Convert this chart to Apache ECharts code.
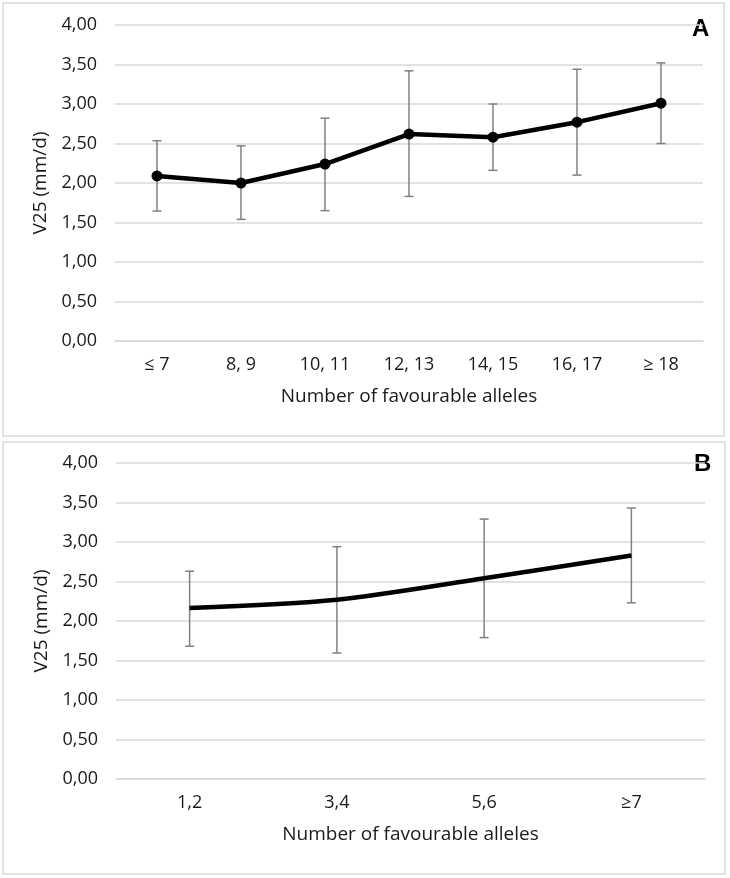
<!DOCTYPE html>
<html>
<head>
<meta charset="utf-8">
<script src="https://cdn.jsdelivr.net/npm/echarts@6/dist/echarts.min.js"></script>
<style>
  html, body { margin: 0; padding: 0; background: #ffffff; }
  #chart { width: 730px; height: 878px; }
</style>
</head>
<body>
<div id="chart"></div>
<script>
// Panel A data
const catsA = ['≤ 7', '8, 9', '10, 11', '12, 13', '14, 15', '16, 17', '≥ 18'];
const meanA = [2.09, 2.00, 2.24, 2.62, 2.58, 2.77, 3.01];
const lowA  = [1.645, 1.54, 1.65, 1.83, 2.16, 2.10, 2.50];
const highA = [2.535, 2.47, 2.82, 3.42, 3.00, 3.44, 3.52];

// Panel B data
const catsB = ['1,2', '3,4', '5,6', '≥7'];
const meanB = [2.165, 2.27, 2.54, 2.83];
const lowB  = [1.68, 1.595, 1.79, 2.23];
const highB = [2.63, 2.94, 3.29, 3.43];

const yTicks = [0, 0.5, 1, 1.5, 2, 2.5, 3, 3.5, 4];
const xName = 'Number of favourable alleles';
const yName = 'V25 (mm/d)';

const FONT = 'Open Sans';
const TXT = '#1a1a1a';
const GRIDC = '#d9d9d9';

function errData(low, high) {
  return low.map((l, i) => [i, l, high[i]]);
}

function errRender(params, api) {
  const x = api.value(0);
  const lo = api.coord([x, api.value(1)]);
  const hi = api.coord([x, api.value(2)]);
  const cap = 4.5;
  const st = { stroke: '#808080', lineWidth: 1.5 };
  return {
    type: 'group',
    children: [
      { type: 'line', shape: { x1: lo[0], y1: lo[1], x2: hi[0], y2: hi[1] }, style: st },
      { type: 'line', shape: { x1: lo[0] - cap, y1: lo[1], x2: lo[0] + cap, y2: lo[1] }, style: st },
      { type: 'line', shape: { x1: hi[0] - cap, y1: hi[1], x2: hi[0] + cap, y2: hi[1] }, style: st }
    ]
  };
}

function yAxisCfg(gi) {
  return {
    gridIndex: gi,
    type: 'value',
    min: 0, max: 4, interval: 0.5,
    name: yName,
    nameLocation: 'middle',
    nameGap: 57,
    nameTextStyle: { fontFamily: FONT, fontSize: 19, color: TXT },
    axisLine: { show: false },
    axisTick: { show: false },
    axisLabel: {
      margin: 18,
      fontFamily: FONT, fontSize: 18, color: TXT,
      formatter: v => v.toFixed(2).replace('.', ',')
    },
    splitLine: { lineStyle: { color: GRIDC, width: 1.5 } }
  };
}

function xAxisCfg(gi, cats) {
  return {
    gridIndex: gi,
    type: 'category',
    data: cats,
    boundaryGap: true,
    name: xName,
    nameLocation: 'middle',
    nameGap: 46,
    nameTextStyle: { fontFamily: FONT, fontSize: 19, color: TXT },
    axisLine: { show: true, lineStyle: { color: GRIDC, width: 1.5 } },
    axisTick: { show: false },
    axisLabel: { margin: 15, fontFamily: FONT, fontSize: 18, color: TXT, interval: 0 }
  };
}

const chart = echarts.init(document.getElementById('chart'), null, { renderer: 'canvas' });
chart.setOption({
  backgroundColor: '#ffffff',
  animation: false,
  graphic: [
    { type: 'rect', shape: { x: 3, y: 3, width: 721, height: 433 }, style: { fill: 'none', stroke: GRIDC, lineWidth: 1.5 }, z: -1 },
    { type: 'rect', shape: { x: 3, y: 442, width: 722, height: 432 }, style: { fill: 'none', stroke: GRIDC, lineWidth: 1.5 }, z: -1 },
    { type: 'text', left: 692, top: 17, style: { text: 'A', fontFamily: 'Liberation Sans', fontWeight: 'bold', fontSize: 24, fill: '#000' } },
    { type: 'text', left: 694, top: 452, style: { text: 'B', fontFamily: 'Liberation Sans', fontWeight: 'bold', fontSize: 24, fill: '#000' } }
  ],
  grid: [
    { left: 115, top: 25, width: 588, height: 316 },
    { left: 116, top: 463, width: 589, height: 316 }
  ],
  xAxis: [xAxisCfg(0, catsA), xAxisCfg(1, catsB)],
  yAxis: [yAxisCfg(0), yAxisCfg(1)],
  series: [
    {
      type: 'custom', xAxisIndex: 0, yAxisIndex: 0,
      renderItem: errRender, data: errData(lowA, highA), z: 1
    },
    {
      type: 'line', xAxisIndex: 0, yAxisIndex: 0, data: meanA,
      symbol: 'circle', symbolSize: 11,
      lineStyle: { color: '#000', width: 4.5 },
      itemStyle: { color: '#000' }, z: 3
    },
    {
      type: 'custom', xAxisIndex: 1, yAxisIndex: 1,
      renderItem: errRender, data: errData(lowB, highB), z: 1
    },
    {
      type: 'line', xAxisIndex: 1, yAxisIndex: 1, data: meanB,
      symbol: 'none', smooth: 0.3,
      lineStyle: { color: '#000', width: 4.5 }, z: 3
    }
  ]
});
</script>
</body>
</html>
